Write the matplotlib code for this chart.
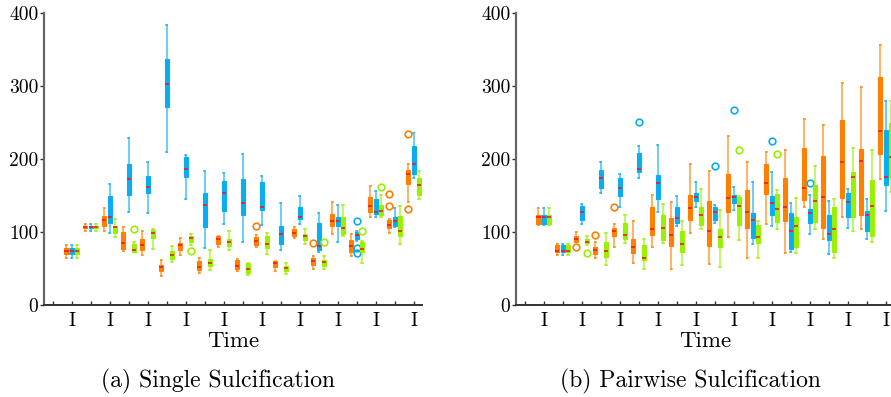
import matplotlib
matplotlib.use("Agg")
import matplotlib.pyplot as plt

plt.rcParams['font.family'] = ['cmr10', 'DejaVu Serif']
plt.rcParams['axes.unicode_minus'] = False

# ---------------- data ----------------
time_points = list(range(20))
xtick_labels = ["I" if k % 2 == 1 else "" for k in time_points]
yticks = [0, 100, 200, 300, 400]
panel_titles = ["(a) Single Sulcification", "(b) Pairwise Sulcification"]
xlabel = "Time"

# each entry: (lower whisker, q1, median, q3, upper whisker)
a_orange = [(0, 0, 0, 0, 0), (65, 70, 74, 78, 82), (101, 105, 107, 109, 111),
            (101, 109, 116, 122, 133), (74, 77, 85, 100, 107), (68, 76, 82, 91, 102),
            (40, 47, 52, 55, 62), (68, 75, 82, 85, 92), (44, 48, 52, 60, 64),
            (79, 84, 91, 94, 95), (46, 50, 54, 62, 63), (80, 82, 88, 93, 96),
            (47, 52, 57, 60, 61), (92, 95, 99, 104, 107), (49, 55, 60, 65, 67),
            (98, 108, 115, 125, 141), (67, 72, 81, 89, 98), (120, 127, 136, 148, 163),
            (99, 106, 110, 117, 118), (141, 166, 180, 185, 193)]
a_orange_out = {11: [109], 14: [85], 18: [152, 136], 19: [234, 132]}

a_blue = [(0, 0, 0, 0, 0), (65, 70, 74, 78, 82), (101, 105, 107, 109, 111),
          (99, 113, 121, 150, 166), (127, 151, 173, 193, 229), (126, 153, 162, 177, 196),
          (210, 272, 303, 337, 384), (145, 175, 187, 203, 206), (78, 107, 137, 153, 184),
          (111, 129, 153, 170, 181), (86, 124, 140, 173, 207), (110, 130, 135, 168, 177),
          (75, 84, 97, 109, 140), (111, 118, 120, 134, 149), (72, 75, 81, 113, 126),
          (87, 109, 115, 120, 137), (88, 90, 96, 100, 102), (121, 125, 128, 145, 156),
          (107, 108, 115, 120, 133), (174, 179, 194, 218, 236)]
a_blue_out = {16: [115, 78, 71]}

a_green = [(0, 0, 0, 0, 0), (65, 70, 74, 78, 82), (101, 105, 107, 109, 111),
           (93, 99, 107, 109, 118), (73, 73, 75, 84, 86), (77, 92, 99, 103, 104),
           (59, 63, 69, 74, 81), (82, 86, 92, 95, 98), (48, 54, 58, 63, 75),
           (75, 81, 86, 90, 102), (41, 44, 50, 57, 58), (70, 78, 84, 94, 99),
           (43, 47, 51, 54, 57), (84, 89, 94, 97, 104), (50, 53, 59, 62, 67),
           (94, 98, 105, 121, 137), (57, 73, 77, 86, 88), (120, 124, 129, 137, 151),
           (83, 95, 102, 122, 136), (146, 151, 164, 174, 184)]
a_green_out = {4: [104], 7: [74], 14: [87], 16: [102], 17: [162]}

b_orange = [(0, 0, 0, 0, 0), (110, 111, 120, 124, 133), (68, 73, 74, 82, 84),
            (86, 87, 90, 94, 100), (65, 70, 75, 80, 87), (80, 94, 101, 106, 111),
            (57, 71, 79, 90, 115), (79, 96, 104, 135, 151), (49, 81, 96, 119, 141),
            (99, 117, 133, 151, 193), (56, 81, 101, 142, 184), (93, 127, 147, 180, 232),
            (64, 105, 128, 158, 196), (111, 152, 167, 193, 210), (71, 115, 134, 174, 213),
            (135, 144, 161, 215, 255), (91, 105, 148, 204, 247), (120, 147, 196, 253, 305),
            (104, 124, 198, 214, 299), (173, 207, 239, 312, 357)]
b_orange_out = {3: [79], 4: [96], 5: [134]}

b_blue = [(0, 0, 0, 0, 0), (110, 111, 120, 124, 133), (68, 73, 74, 82, 84),
          (111, 117, 128, 136, 139), (153, 161, 174, 185, 196), (135, 149, 160, 174, 180),
          (174, 183, 187, 208, 218), (128, 145, 167, 178, 220), (108, 113, 119, 134, 150),
          (135, 142, 148, 154, 168), (112, 117, 127, 134, 137), (130, 140, 148, 151, 162),
          (83, 92, 117, 126, 168), (108, 124, 140, 149, 182), (72, 77, 101, 126, 140),
          (98, 113, 126, 132, 151), (70, 89, 97, 123, 143), (105, 121, 141, 153, 159),
          (91, 101, 124, 129, 145), (129, 165, 176, 240, 280)]
b_blue_out = {6: [251], 10: [190], 11: [268], 13: [225], 15: [167]}

b_green = [(0, 0, 0, 0, 0), (110, 111, 120, 124, 133), (68, 73, 74, 82, 84),
           (82, 85, 86, 90, 95), (55, 66, 74, 87, 99), (85, 91, 96, 112, 124),
           (49, 62, 65, 82, 90), (85, 89, 105, 124, 138), (55, 73, 83, 101, 115),
           (104, 110, 123, 134, 159), (52, 79, 93, 104, 130), (89, 110, 136, 148, 150),
           (65, 85, 93, 110, 115), (104, 114, 131, 152, 158), (71, 80, 109, 120, 147),
           (104, 114, 143, 164, 191), (65, 73, 104, 134, 145), (101, 120, 175, 182, 215),
           (87, 94, 136, 172, 212), (155, 176, 203, 249, 280)]
b_green_out = {3: [71], 11: [212], 13: [207]}

# ---------------- style ----------------
ORANGE = '#ff7f00'
BLUE = '#0aaef0'
GREEN = '#99f000'
MEDIAN = '#ec1c24'
offsets = [-0.28, 0.0, 0.28]
box_w = 0.22

fig = plt.figure(figsize=(8.91, 3.97), dpi=100)
W, H = 891.0, 397.0
ax_a = fig.add_axes([44 / W, (H - 305) / H, 378 / W, (305 - 13.3) / H])
ax_b = fig.add_axes([516 / W, (H - 305) / H, 378 / W, (305 - 13.3) / H])


def draw_series(ax, stats, outliers, color, off):
    recs = []
    for k, (wl, q1, med, q3, wh) in enumerate(stats):
        recs.append(dict(whislo=wl, q1=q1, med=med, q3=q3, whishi=wh,
                         fliers=outliers.get(k, [])))
    pos = [t + off for t in time_points]
    ax.bxp(recs, positions=pos, widths=box_w, capwidths=0.07,
           patch_artist=True, showfliers=True, manage_ticks=False,
           boxprops=dict(facecolor=color, edgecolor=color, linewidth=0.8),
           whiskerprops=dict(color=color, alpha=0.6, linewidth=1.4),
           capprops=dict(color=color, alpha=0.6, linewidth=1.4),
           medianprops=dict(color=MEDIAN, linewidth=1.2),
           flierprops=dict(marker='o', markerfacecolor='none',
                           markeredgecolor=color, markersize=4.8,
                           markeredgewidth=1.2))


panels = [
    (ax_a, [(a_orange, a_orange_out, ORANGE), (a_blue, a_blue_out, BLUE),
            (a_green, a_green_out, GREEN)]),
    (ax_b, [(b_orange, b_orange_out, ORANGE), (b_blue, b_blue_out, BLUE),
            (b_green, b_green_out, GREEN)]),
]

for ax, series in panels:
    for (stats, outs, col), off in zip(series, offsets):
        draw_series(ax, stats, outs, col, off)
    ax.set_xlim(-0.46, 19.44)
    ax.set_ylim(0, 400)
    ax.set_yticks(yticks)
    ax.set_yticklabels([str(v) for v in yticks], fontsize=14)
    ax.set_xticks(time_points)
    ax.set_xticklabels(xtick_labels, fontsize=14)
    ax.tick_params(axis='x', direction='in', length=3, width=1, color='#333333', pad=5)
    ax.tick_params(axis='y', direction='out', length=3, width=1, color='#333333', pad=1)
    for s in ('top', 'right'):
        ax.spines[s].set_visible(False)
    ax.spines['left'].set_color('#666666')
    ax.spines['left'].set_linewidth(1.6)
    ax.spines['bottom'].set_color('#333333')
    ax.spines['bottom'].set_linewidth(1.4)
    ax.set_xlabel(xlabel, fontsize=16.5, labelpad=1)
    ax.patch.set_visible(False)

fig.text(218 / W, 1 - 381.5 / H, panel_titles[0], ha='center', va='center', fontsize=17)
fig.text(690 / W, 1 - 381.5 / H, panel_titles[1], ha='center', va='center', fontsize=17)

fig.savefig('out.png', dpi=100)
